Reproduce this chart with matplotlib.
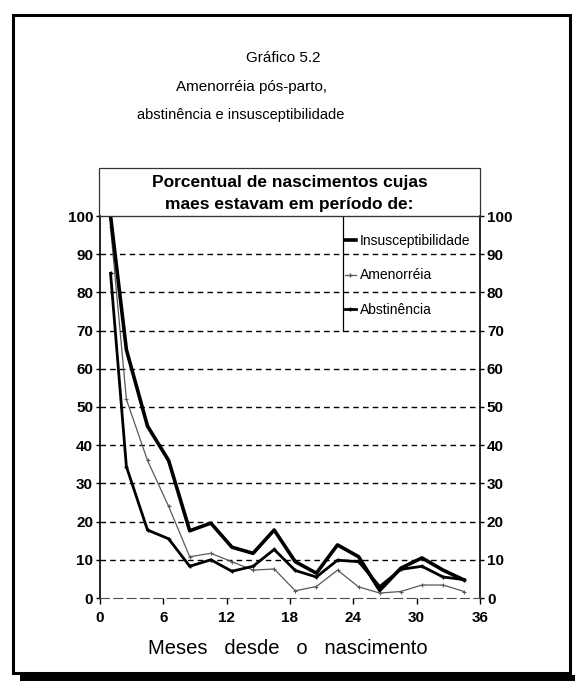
import matplotlib.pyplot as plt
from matplotlib.patches import Rectangle
from matplotlib.lines import Line2D

# Dados (meses desde o nascimento, % de nascimentos)
meses = [1, 2.5, 4.5, 6.5, 8.5, 10.5, 12.5, 14.5, 16.5, 18.5, 20.5, 22.5,
         24.5, 26.5, 28.5, 30.5, 32.5, 34.5]
insusceptibilidade = [100, 65, 45, 36, 17.6, 19.6, 13.3, 11.7, 17.8, 9.5, 6.5,
                      13.9, 10.8, 2, 7.8, 10.5, 7.3, 4.7]
amenorreia = [97, 52, 36, 24, 10.8, 11.7, 9.5, 7.3, 7.6, 1.9, 3, 7.3, 2.9,
              1.3, 1.7, 3.4, 3.4, 1.7]
abstinencia = [85, 34.4, 17.8, 15.5, 8.3, 10, 7, 8.3, 12.7, 7.2, 5.5, 9.9,
               9.5, 3, 7.5, 8.3, 5.5, 4.8]

xticks = [0, 6, 12, 18, 24, 30, 36]
yticks = list(range(0, 101, 10))
legenda = ['Insusceptibilidade', 'Amenorréia', 'Abstinência']

plt.rcParams['font.family'] = ['Liberation Sans', 'DejaVu Sans']

W, H = 575, 681
fig = plt.figure(figsize=(W / 100, H / 100), dpi=100)


def fx(px):
    return px / W


def fy(py):
    return 1 - py / H


# moldura externa
fig.add_artist(Rectangle((fx(13), fy(673)), fx(570) - fx(13), fy(15) - fy(673),
                         transform=fig.transFigure, fill=False, lw=2.2, ec='black'))
fig.add_artist(Rectangle((fx(20), fy(681)), fx(575) - fx(20), fy(675) - fy(681),
                         transform=fig.transFigure, fill=True, lw=0, fc='black'))

# títulos
fig.text(fx(283), fy(58), 'Gráfico 5.2', ha='center', va='center', fontsize=11)
fig.text(fx(252), fy(87), 'Amenorréia pós-parto,', ha='center', va='center', fontsize=11)
fig.text(fx(241), fy(115), 'abstinência e insusceptibilidade', ha='center', va='center',
         fontsize=10.5)

# caixa do título interno
fig.add_artist(Rectangle((fx(99), fy(216)), fx(480) - fx(99), fy(168) - fy(216),
                         transform=fig.transFigure, fill=False, lw=0.9, ec='0.2'))
fig.text(fx(290), fy(182), 'Porcentual de nascimentos cujas', ha='center', va='center',
         fontsize=12.5, fontweight='bold')
fig.text(fx(289), fy(205), 'maes estavam em período de:', ha='center', va='center',
         fontsize=12.5, fontweight='bold')

ax = fig.add_axes([fx(100), fy(598), fx(480) - fx(100), fy(216) - fy(598)])

for v in yticks[1:-1]:
    ax.axhline(v, color='black', lw=1.0, ls=(0, (4, 3)), zorder=1)

ax.plot(meses, amenorreia, color='0.35', lw=0.9, marker='+', ms=3, mew=0.8, zorder=3)
ax.plot(meses, abstinencia, color='black', lw=2.0, marker='+', ms=3, mew=1, zorder=4)
ax.plot(meses, insusceptibilidade, color='black', lw=2.6, zorder=5)

# caixa da legenda
ax.plot([23, 23], [70, 100], color='black', lw=0.9, zorder=2)

ax.set_xlim(0, 36)
ax.set_ylim(0, 100)
ax.set_xticks(xticks)
ax.set_yticks(yticks)

ax.tick_params(axis='both', labelsize=11, width=1, length=3, direction='out')
ax.tick_params(axis='y', right=True, labelright=True, pad=2)
ax.tick_params(axis='x', length=4, pad=5)
for lab in ax.get_xticklabels() + ax.get_yticklabels():
    lab.set_fontweight('bold')

ax.spines['left'].set_linewidth(1.2)
ax.spines['right'].set_linewidth(1.2)
ax.spines['top'].set_linewidth(0.8)
ax.spines['top'].set_color('0.3')
ax.spines['bottom'].set_linewidth(0.8)
ax.spines['bottom'].set_color('0.3')
ax.spines['bottom'].set_linestyle((0, (8, 4)))

handles = [Line2D([], [], color='black', lw=2.6),
           Line2D([], [], color='0.35', lw=0.9, marker='+', ms=3),
           Line2D([], [], color='black', lw=2.0, marker='+', ms=3)]
leg = ax.legend(handles, legenda, loc='upper left', bbox_to_anchor=(23.2 / 36, 0.952),
                frameon=False, handlelength=0.8, handletextpad=0.3, labelspacing=1.45,
                borderaxespad=0, borderpad=0,
                prop={'family': ['Liberation Sans Narrow', 'Liberation Sans'],
                      'size': 10})

fig.text(fx(288), fy(648), 'Meses   desde   o   nascimento', ha='center', va='center',
         fontsize=14.5)

fig.savefig('out.png', dpi=100)
